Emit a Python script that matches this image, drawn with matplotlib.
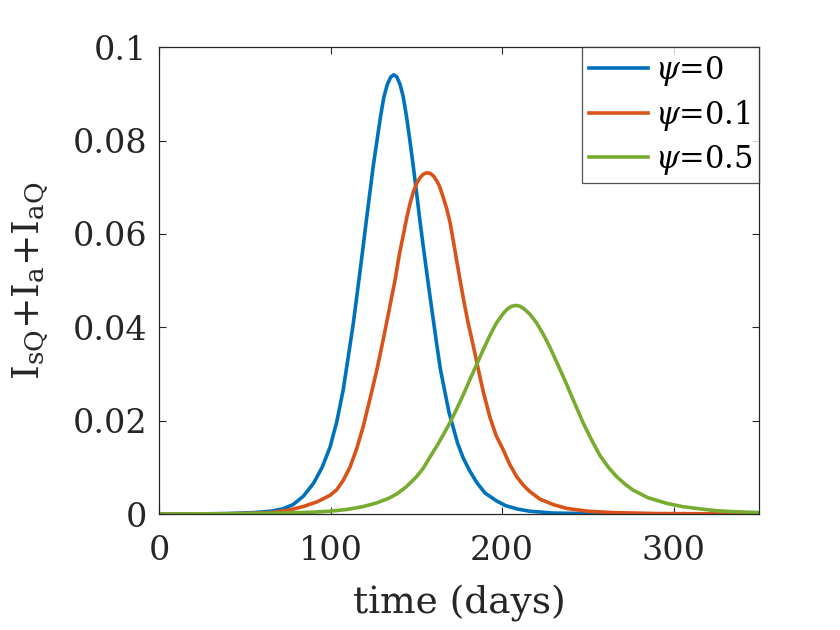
import matplotlib
matplotlib.use("Agg")
import matplotlib.pyplot as plt

# ---- data ----
t_blue = [0, 20, 40, 55, 65, 72, 78, 84, 90, 95, 99.6, 103.5, 107.3, 111, 113.2, 115,
          117.1, 119, 121, 122.9, 124.8, 126.8, 129, 131, 133, 135, 136.7, 138.5, 140.5,
          142.3, 144.3, 146.2, 148, 150.1, 152, 154, 156, 157.9, 160, 161.8, 164, 166.7,
          169, 171.5, 174, 177.3, 181, 185.1, 190, 196.8, 202, 208.5, 216, 230, 250, 300, 350]
v_blue = [0.0, 0.00002, 0.0001, 0.0003, 0.0006, 0.0011, 0.0020, 0.0038, 0.0066, 0.0100,
          0.0143, 0.0197, 0.0266, 0.0355, 0.0409, 0.0460, 0.0520, 0.0575, 0.0635, 0.0690,
          0.0745, 0.0795, 0.0850, 0.0893, 0.0920, 0.0936, 0.0941, 0.0937, 0.0920, 0.0894,
          0.0850, 0.0800, 0.0750, 0.0688, 0.0630, 0.0573, 0.0518, 0.0467, 0.0412, 0.0365,
          0.0310, 0.0260, 0.0218, 0.0185, 0.0152, 0.0120, 0.0093, 0.0068, 0.0045, 0.0028,
          0.0018, 0.0011, 0.0006, 0.0002, 0.0001, 0.0, 0.0]

t_orange = [0, 30, 50, 65, 75, 84, 92, 99.6, 103.5, 107.3, 111.2, 115, 119, 123, 127, 131,
            134.5, 137.5, 140, 142.3, 144.5, 146.2, 148.2, 150.1, 152, 154, 156, 158, 160,
            162, 163.7, 165.5, 167.6, 169.6, 172, 174, 176, 178, 180, 183.2, 186.1, 189,
            192.9, 196.5, 200.7, 204.6, 208.5, 212.3, 216.2, 222, 230, 237.6, 250, 265, 290, 350]
v_orange = [0.0, 0.00003, 0.0001, 0.0003, 0.0008, 0.0016, 0.0026, 0.0040, 0.0052, 0.0072,
            0.0100, 0.0138, 0.0188, 0.0248, 0.0310, 0.0380, 0.0445, 0.0500, 0.0555, 0.0597,
            0.0637, 0.0664, 0.0690, 0.0708, 0.0720, 0.0728, 0.0731, 0.0730, 0.0724, 0.0713,
            0.0700, 0.0680, 0.0655, 0.0625, 0.0575, 0.0532, 0.0490, 0.0450, 0.0412, 0.0360,
            0.0310, 0.0262, 0.0207, 0.0168, 0.0137, 0.0105, 0.0080, 0.0062, 0.0048, 0.0032,
            0.0020, 0.0012, 0.0006, 0.0003, 0.0001, 0.0]

t_green = [0, 40, 70, 90, 99.6, 110, 119, 127, 134, 138.5, 144, 150.1, 154, 157.9, 161.8,
           165.7, 169.6, 173.5, 177.3, 181.2, 185.1, 189, 192.9, 196.8, 200.7, 203, 205.5,
           208.1, 210.5, 213, 216.2, 220, 224, 227.9, 232, 237.6, 242, 247.3, 252, 257.1,
           262, 266.8, 272, 276.5, 285, 295.9, 305, 315.4, 325, 334.8, 350]
v_green = [0.0, 0.00005, 0.0002, 0.0004, 0.0006, 0.0010, 0.0016, 0.0024, 0.0034, 0.0043,
           0.0058, 0.0080, 0.0098, 0.0122, 0.0145, 0.0170, 0.0196, 0.0225, 0.0255, 0.0288,
           0.0320, 0.0352, 0.0383, 0.0410, 0.0430, 0.0439, 0.0445, 0.0447, 0.0445, 0.0439,
           0.0428, 0.0410, 0.0385, 0.0357, 0.0324, 0.0278, 0.0240, 0.0195, 0.0160, 0.0125,
           0.0100, 0.0080, 0.0063, 0.0051, 0.0035, 0.0023, 0.0016, 0.0011, 0.0007, 0.0005,
           0.0003]

labels = [r'$\psi$=0', r'$\psi$=0.1', r'$\psi$=0.5']
colors = ['#0072BD', '#D95319', '#77AC30']
x_ticks = [0, 100, 200, 300]
x_ticklabels = ['0', '100', '200', '300']
y_ticks = [0, 0.02, 0.04, 0.06, 0.08, 0.1]
y_ticklabels = ['0', '0.02', '0.04', '0.06', '0.08', '0.1']

# ---- style ----
plt.rcParams['font.family'] = ['DejaVu Serif']
plt.rcParams['mathtext.fontset'] = 'dejavuserif'
txt = '#262626'

fig = plt.figure(figsize=(8.4, 6.3), dpi=100)
ax = fig.add_axes([0.1896, 0.1841, 0.7143, 0.7409])

for t, v, lab, c in zip([t_blue, t_orange, t_green], [v_blue, v_orange, v_green], labels, colors):
    ax.plot(t, v, color=c, lw=2.6, label=lab, solid_joinstyle='round')

ax.set_xlim(0, 350)
ax.set_ylim(0, 0.1)
ax.set_xticks(x_ticks)
ax.set_xticklabels(x_ticklabels)
ax.set_yticks(y_ticks)
ax.set_yticklabels(y_ticklabels)
ax.tick_params(direction='in', top=True, right=True, length=5, width=0.8,
               labelsize=24, colors=txt)
ax.tick_params(axis='x', pad=15)
ax.tick_params(axis='y', pad=8.5)
for sp in ax.spines.values():
    sp.set_color(txt)
    sp.set_linewidth(0.9)

ax.set_xlabel('time (days)', fontsize=27, color=txt)
ax.xaxis.set_label_coords(0.5, -0.152)
ax.set_ylabel(r'$\mathrm{I_{sQ}{+}I_a{+}I_{aQ}}$', fontsize=27, color=txt)
ax.yaxis.set_label_coords(-0.180, 0.5)

leg = ax.legend(loc='upper right', borderaxespad=0, fontsize=22, frameon=True,
                fancybox=False, edgecolor=txt, handlelength=1.93, handletextpad=0.23,
                borderpad=0.22, labelspacing=0.32)
leg.get_frame().set_linewidth(0.9)

fig.savefig('out.png', dpi=100)
